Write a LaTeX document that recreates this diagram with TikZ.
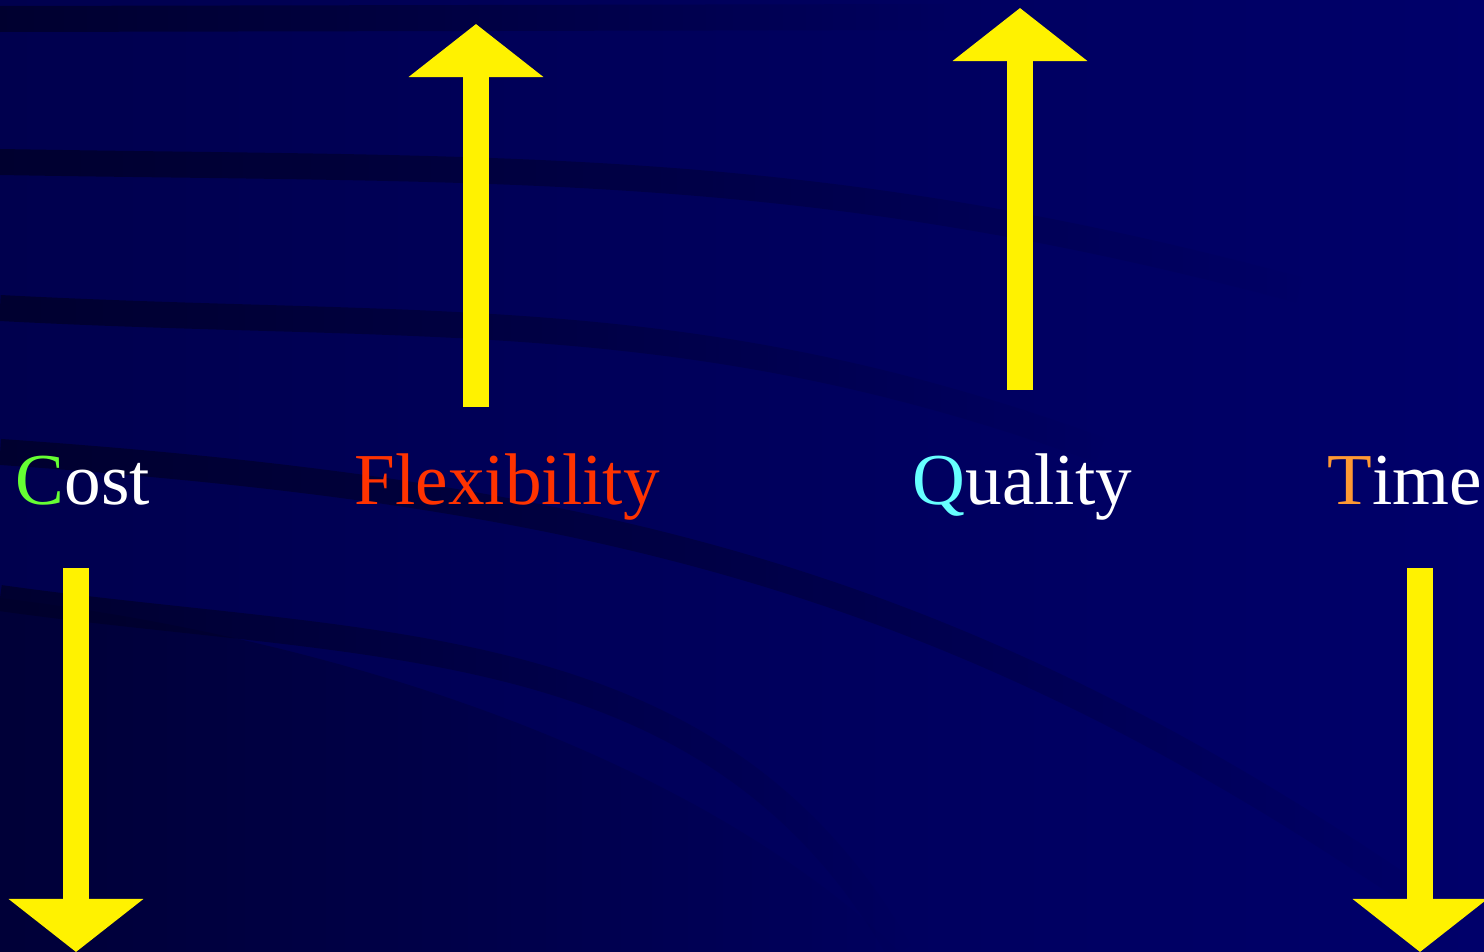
\documentclass[tikz,border=0pt]{standalone}
\usepackage{fontspec}
\setmainfont{Liberation Serif}
\usetikzlibrary{arrows.meta,fadings}
\definecolor{bgleft}{HTML}{00004E}
\definecolor{bgright}{HTML}{00006A}
\definecolor{band}{HTML}{00002A}
\definecolor{cgreen}{HTML}{66FF33}
\definecolor{fred}{HTML}{FF3300}
\definecolor{qcyan}{HTML}{66FFFF}
\definecolor{torange}{HTML}{FF9933}
\tikzfading[name=fadeband, left color=transparent!0, middle color=transparent!15,
  right color=transparent!100]
\begin{document}
\begin{tikzpicture}[x=0.01cm, y=-0.01cm]
    \useasboundingbox (0,0) rectangle (1484,952);
    % background
    \shade[left color=bgleft, right color=bgright] (0,0) rectangle (1484,952);
    \fill[band, opacity=.6, path fading=fadeband]
      (0,598) .. controls (350,640) and (700,760) .. (900,952) -- (0,952) -- cycle;
    \path[
      b/.style = {draw=band, line width=2.6mm, opacity=.85, path fading=fadeband}
    ]
      (0,19) edge[b] (950,17)
      (0,162) edge[b, out=-1, in=165] (1300,290)
      (0,308) edge[b, out=-3, in=160] (1100,450)
      (0,452) edge[b, out=-4, in=145] (1450,920)
      (0,598) edge[b, out=-8, in=120] (900,952)
    ;
    % define points
    \path
      (476,407) coordinate(F0) (476,24) coordinate(F1)
      (1020,390) coordinate(Q0) (1020,8) coordinate(Q1)
      (76,568) coordinate(C0) (76,952) coordinate(C1)
      (1420,568) coordinate(T0) (1420,952) coordinate(T1)
    ;
    % labels
    \path[
      w/.style = {anchor=base west, inner sep=0pt, text=white,
        font=\fontsize{20.8pt}{25pt}\selectfont}
    ]
      (15,505) node[w](cost){\textcolor{cgreen}{C}ost}
      (354,505) node[w, text=fred](flex){Flexibility}
      (912,505) node[w](qual){\textcolor{qcyan}{Q}uality}
      (1327,505) node[w](time){\textcolor{torange}{T}ime}
    ;
    % draw arrows
    \path[
      a/.style = {draw=yellow, line width=2.6mm,
        -{Triangle[width=13.2mm, length=5.3mm]}}
    ]
    foreach \s/\e in {F0/F1,Q0/Q1,C0/C1,T0/T1}{
      (\s) edge[a] (\e)
    };
  \end{tikzpicture}
\end{document}
